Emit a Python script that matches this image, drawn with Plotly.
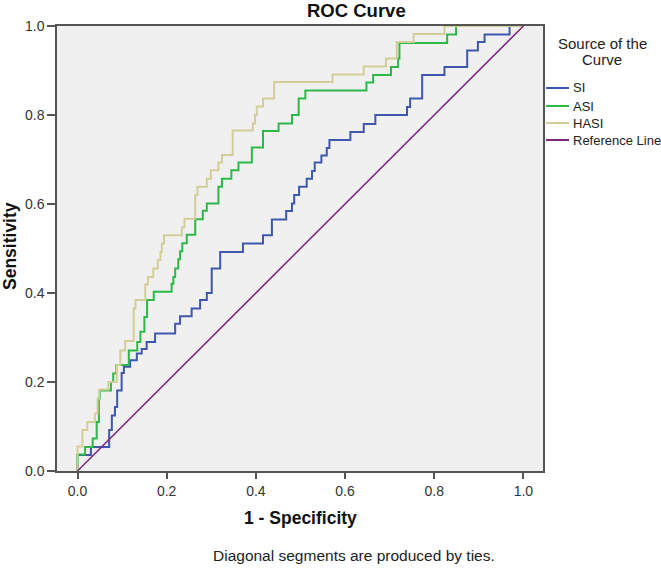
import plotly.graph_objects as go

# ---- data ----
si_fpr = [0.0, 0.0, 0.030, 0.071, 0.077, 0.084, 0.089, 0.099, 0.104, 0.118, 0.133, 0.144,
          0.155, 0.174, 0.219, 0.230, 0.256, 0.275, 0.290, 0.301, 0.320, 0.371, 0.416,
          0.436, 0.468, 0.481, 0.486, 0.497, 0.514, 0.526, 0.532, 0.547, 0.559, 0.565,
          0.612, 0.642, 0.668, 0.739, 0.746, 0.773, 0.823, 0.874, 0.898, 0.913, 0.969, 1.0]
si_tpr = [0.0, 0.036, 0.054, 0.092, 0.125, 0.144, 0.181, 0.220, 0.234, 0.249, 0.264, 0.274,
          0.290, 0.309, 0.331, 0.348, 0.365, 0.384, 0.400, 0.455, 0.492, 0.511, 0.530,
          0.565, 0.584, 0.601, 0.620, 0.639, 0.657, 0.674, 0.693, 0.709, 0.726, 0.744,
          0.762, 0.780, 0.800, 0.818, 0.837, 0.890, 0.908, 0.945, 0.964, 0.981, 1.0, 1.0]

asi_fpr = [0.0, 0.0, 0.017, 0.034, 0.043, 0.048, 0.050, 0.075, 0.080, 0.087, 0.115, 0.134,
           0.141, 0.150, 0.156, 0.171, 0.211, 0.215, 0.219, 0.226, 0.230, 0.235, 0.245,
           0.264, 0.281, 0.290, 0.316, 0.324, 0.345, 0.361, 0.391, 0.416, 0.451, 0.481,
           0.496, 0.511, 0.648, 0.663, 0.703, 0.719, 0.722, 0.829, 0.849, 1.0]
asi_tpr = [0.0, 0.037, 0.054, 0.073, 0.110, 0.163, 0.181, 0.200, 0.219, 0.238, 0.271, 0.290,
           0.313, 0.346, 0.384, 0.403, 0.421, 0.436, 0.455, 0.476, 0.494, 0.512, 0.531,
           0.566, 0.585, 0.601, 0.639, 0.657, 0.676, 0.693, 0.727, 0.764, 0.781, 0.800,
           0.837, 0.855, 0.873, 0.890, 0.908, 0.927, 0.962, 0.981, 1.0, 1.0]

hasi_fpr = [0.0, 0.0, 0.011, 0.022, 0.039, 0.045, 0.049, 0.069, 0.088, 0.096, 0.107, 0.126,
            0.130, 0.152, 0.158, 0.170, 0.180, 0.186, 0.189, 0.194, 0.234, 0.240, 0.264,
            0.269, 0.290, 0.299, 0.316, 0.324, 0.348, 0.393, 0.398, 0.402, 0.416, 0.441,
            0.572, 0.642, 0.692, 0.716, 0.754, 0.823, 1.0]
hasi_tpr = [0.0, 0.055, 0.092, 0.110, 0.129, 0.163, 0.183, 0.200, 0.238, 0.271, 0.292, 0.365,
            0.384, 0.419, 0.436, 0.455, 0.474, 0.492, 0.511, 0.530, 0.548, 0.567, 0.620,
            0.639, 0.657, 0.676, 0.693, 0.710, 0.765, 0.781, 0.800, 0.819, 0.837, 0.874,
            0.891, 0.909, 0.927, 0.964, 0.982, 1.0, 1.0]

ref_x = [0.0, 1.0]
ref_y = [0.0, 1.0]

tick_vals = [0.0, 0.2, 0.4, 0.6, 0.8, 1.0]
tick_text = ["0.0", "0.2", "0.4", "0.6", "0.8", "1.0"]

series_names = ["SI", "ASI", "HASI", "Reference Line"]
series_colors = ["#3E58AC", "#2EB848", "#D3CE97", "#7C287D"]

FONT = "Liberation Sans, Arial, sans-serif"

# plot-area geometry in pixels (layout only)
W, H = 661, 569
L, R, T, B = 57, 543, 26, 471
PW, PH = R - L, B - T


def px(x):
    return (x - L) / PW


def py(y):
    return (B - y) / PH


fig = go.Figure()
fig.add_trace(go.Scatter(x=si_fpr, y=si_tpr, mode="lines", name=series_names[0],
                         line=dict(color=series_colors[0], width=2, shape="hv")))
fig.add_trace(go.Scatter(x=asi_fpr, y=asi_tpr, mode="lines", name=series_names[1],
                         line=dict(color=series_colors[1], width=2, shape="hv")))
fig.add_trace(go.Scatter(x=hasi_fpr, y=hasi_tpr, mode="lines", name=series_names[2],
                         line=dict(color=series_colors[2], width=2, shape="hv")))
fig.add_trace(go.Scatter(x=ref_x, y=ref_y, mode="lines", name=series_names[3],
                         line=dict(color=series_colors[3], width=1.5)))

annotations = [
    dict(text="<b>ROC Curve</b>", x=px(356), y=py(10), font=dict(size=18.5, color="#111111")),
    dict(text="<b>1 - Specificity</b>", x=px(300), y=py(518), font=dict(size=17.5, color="#111111")),
    dict(text="<b>Sensitivity</b>", x=px(10), y=py(246), textangle=-90,
         font=dict(size=17.5, color="#111111")),
    dict(text="Diagonal segments are produced by ties.", x=px(354), y=py(555),
         font=dict(size=15.5, color="#222222")),
    dict(text="Source of the", x=px(602), y=py(43), font=dict(size=15, color="#222222")),
    dict(text="Curve", x=px(602), y=py(60), font=dict(size=15, color="#222222")),
]
for a in annotations:
    a.update(xref="paper", yref="paper", xanchor="center", yanchor="middle", showarrow=False)

shapes = []
legend_rows = [88, 106, 123, 140]
for name, color, row in zip(series_names, series_colors, legend_rows):
    shapes.append(dict(type="line", xref="paper", yref="paper", x0=px(546), x1=px(569),
                       y0=py(row), y1=py(row), line=dict(color=color, width=2)))
    annotations.append(dict(text=name, xref="paper", yref="paper", x=px(571), y=py(row),
                            xanchor="left", yanchor="middle", showarrow=False,
                            font=dict(size=13, color="#222222")))

fig.update_layout(
    width=W, height=H,
    margin=dict(l=L, r=W - R, t=T, b=H - B, autoexpand=False),
    paper_bgcolor="white",
    plot_bgcolor="#F0F0F0",
    font=dict(family=FONT, color="#222222", size=13),
    showlegend=False,
    xaxis=dict(
        range=[-0.046, 1.044], tickvals=tick_vals, ticktext=tick_text,
        showgrid=False, zeroline=False, showline=True, mirror=True,
        linecolor="#555555", linewidth=1.5, ticks="outside", ticklen=6,
        tickcolor="#555555", tickwidth=1.5, tickfont=dict(size=14, color="#333333"),
    ),
    yaxis=dict(
        range=[0, 1], tickvals=tick_vals, ticktext=tick_text,
        showgrid=False, zeroline=False, showline=True, mirror=True,
        linecolor="#555555", linewidth=1.5, ticks="outside", ticklen=8,
        tickcolor="#555555", tickwidth=1.5, tickfont=dict(size=14, color="#333333"),
    ),
    annotations=annotations,
    shapes=shapes,
)

fig.write_html("out.html",
               config={"displayModeBar": False},
               post_script="document.body.style.margin='0';document.body.style.overflow='hidden';")
